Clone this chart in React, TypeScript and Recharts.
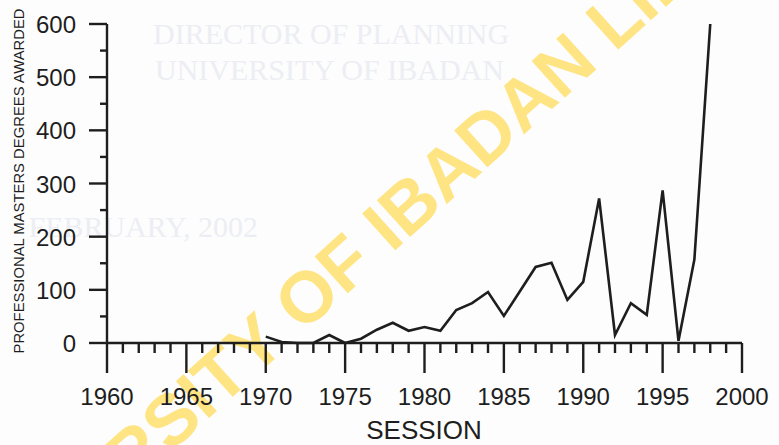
import { LineChart, Line, XAxis, YAxis } from "recharts";

const sessions = [
  1970, 1971, 1972, 1973, 1974, 1975, 1976, 1977, 1978, 1979, 1980, 1981, 1982, 1983, 1984,
  1985, 1986, 1987, 1988, 1989, 1990, 1991, 1992, 1993, 1994, 1995, 1996, 1997, 1998,
];
const degrees = [
  12, 2, 0, 0, 15, 0, 8, 25, 38, 23, 30, 23, 62, 75, 96,
  51, 97, 143, 151, 81, 115, 272, 15, 75, 53, 287, 4, 157, 600,
];
const xTicks = [
  1960, 1961, 1962, 1963, 1964, 1965, 1966, 1967, 1968, 1969, 1970, 1971, 1972, 1973,
  1974, 1975, 1976, 1977, 1978, 1979, 1980, 1981, 1982, 1983, 1984, 1985, 1986, 1987,
  1988, 1989, 1990, 1991, 1992, 1993, 1994, 1995, 1996, 1997, 1998, 1999, 2000,
];
const yTicks = [0, 50, 100, 150, 200, 250, 300, 350, 400, 450, 500, 550, 600];

const data = sessions.map((s, i) => ({ session: s, degrees: degrees[i] }));

const ink = "#1e1e1e";
const font = "'Liberation Sans', Arial, Helvetica, sans-serif";

function SessionTick(props: any) {
  const { x, y, payload } = props;
  const major = payload.value % 5 === 0;
  return (
    <g>
      <line x1={x} x2={x} y1={y} y2={y + (major ? 30 : 10)} stroke={ink} strokeWidth={2.4} />
      {major && (
        <text x={x} y={y + 62} textAnchor="middle" fontSize={24} fontFamily={font} fill={ink}>
          {payload.value}
        </text>
      )}
    </g>
  );
}

function DegreeTick(props: any) {
  const { x, y, payload } = props;
  const major = payload.value % 100 === 0;
  return (
    <g>
      <line x1={x} x2={x - (major ? 18 : 7)} y1={y} y2={y} stroke={ink} strokeWidth={2.4} />
      {major && (
        <text x={x - 31} y={y + 9} textAnchor="end" fontSize={24} fontFamily={font} fill={ink}>
          {payload.value}
        </text>
      )}
    </g>
  );
}

export default function App() {
  return (
    <div style={{ position: "absolute", left: 0, top: 0, width: 779, height: 445, background: "#fdfdfd" }}>
      <svg width={779} height={445} style={{ position: "absolute", left: 0, top: 0 }}>
        <g fill="#eceef4" fontFamily="'Liberation Serif', 'Times New Roman', serif" fontSize={30}>
          <text x={153} y={44}>DIRECTOR OF PLANNING</text>
          <text x={155} y={80}>UNIVERSITY OF IBADAN</text>
          <text x={258} y={237} textAnchor="end">FEBRUARY, 2002</text>
        </g>
        <text
          x={409}
          y={238}
          transform="rotate(-42 409 238)"
          textAnchor="middle"
          fontSize={72}
          fontWeight="bold"
          fontFamily={font}
          fill="#ffe483"
        >
          UNIVERSITY OF IBADAN LIBRARY
        </text>
      </svg>
      <div style={{ position: "absolute", left: 0, top: 0 }}>
        <LineChart width={779} height={445} data={data} margin={{ top: 24, right: 37, bottom: 22, left: 17 }}>
          <XAxis
            dataKey="session"
            type="number"
            domain={[1960, 2000]}
            ticks={xTicks}
            interval={0}
            height={80}
            tickSize={0}
            tickMargin={0}
            tickLine={false}
            tick={<SessionTick />}
            axisLine={{ stroke: ink, strokeWidth: 2.4 }}
          />
          <YAxis
            type="number"
            domain={[0, 600]}
            ticks={yTicks}
            interval={0}
            width={90}
            tickSize={0}
            tickMargin={0}
            tickLine={false}
            tick={<DegreeTick />}
            axisLine={{ stroke: ink, strokeWidth: 2.4 }}
          />
          <Line
            type="linear"
            dataKey="degrees"
            stroke={ink}
            strokeWidth={2.6}
            dot={false}
            isAnimationActive={false}
          />
        </LineChart>
      </div>
      <svg width={779} height={445} style={{ position: "absolute", left: 0, top: 0, pointerEvents: "none" }}>
        <text
          x={0}
          y={0}
          transform="translate(24 181) rotate(-90)"
          textAnchor="middle"
          fontSize={15}
          textLength={345}
          lengthAdjust="spacingAndGlyphs"
          fontFamily={font}
          fill={ink}
        >
          PROFESSIONAL MASTERS DEGREES AWARDED
        </text>
        <text x={424} y={439} textAnchor="middle" fontSize={26} fontFamily={font} fill={ink}>
          SESSION
        </text>
      </svg>
    </div>
  );
}
